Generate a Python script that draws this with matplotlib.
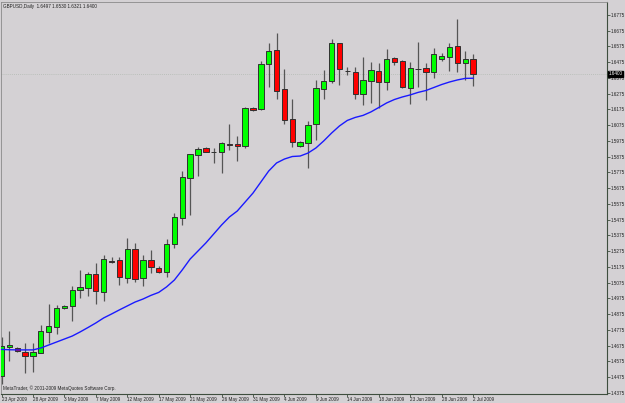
import matplotlib
matplotlib.use('Agg')
import matplotlib.pyplot as plt
import matplotlib.transforms as mtransforms
import numpy as np

symbol_title = "GBPUSD,Daily  1.6497 1.6530 1.6321 1.6400"
copyright_text = "MetaTrader, \u00a9 2001-2009 MetaQuotes Software Corp."

dates = ["23 Apr 2009", "24 Apr 2009", "26 Apr 2009", "27 Apr 2009", "28 Apr 2009", "29 Apr 2009", "30 Apr 2009",
         "1 May 2009", "3 May 2009", "4 May 2009", "5 May 2009", "6 May 2009", "7 May 2009", "8 May 2009",
         "10 May 2009", "11 May 2009", "12 May 2009", "13 May 2009", "14 May 2009", "15 May 2009",
         "17 May 2009", "18 May 2009", "19 May 2009", "20 May 2009", "21 May 2009", "22 May 2009",
         "24 May 2009", "25 May 2009", "26 May 2009", "27 May 2009", "28 May 2009", "29 May 2009",
         "31 May 2009", "1 Jun 2009", "2 Jun 2009", "3 Jun 2009", "4 Jun 2009", "5 Jun 2009",
         "7 Jun 2009", "8 Jun 2009", "9 Jun 2009", "10 Jun 2009", "11 Jun 2009", "12 Jun 2009",
         "14 Jun 2009", "15 Jun 2009", "16 Jun 2009", "17 Jun 2009", "18 Jun 2009", "19 Jun 2009",
         "21 Jun 2009", "22 Jun 2009", "23 Jun 2009", "24 Jun 2009", "25 Jun 2009", "26 Jun 2009",
         "28 Jun 2009", "29 Jun 2009", "30 Jun 2009", "1 Jul 2009", "2 Jul 2009"]

opens = [1.4483, 1.4665, 1.4660, 1.4635, 1.4611, 1.4630, 1.4764, 1.4796, 1.4914, 1.4929,
         1.5030, 1.5039, 1.5132, 1.5018, 1.5215, 1.5219, 1.5103, 1.5287, 1.5107, 1.5219,
         1.5168, 1.5141, 1.5321, 1.5484, 1.5738, 1.5888, 1.5930, 1.5906, 1.5905, 1.5956,
         1.5954, 1.5945, 1.6182, 1.6176, 1.6462, 1.6552, 1.6303, 1.6112, 1.5943, 1.5960,
         1.6083, 1.6305, 1.6358, 1.6595, 1.6421, 1.6415, 1.6273, 1.6358, 1.6419, 1.6347,
         1.6500, 1.6481, 1.6309, 1.6433, 1.6436, 1.6411, 1.6497, 1.6510, 1.6578, 1.6472,
         1.6497]
highs = [1.4730, 1.4770, 1.4669, 1.4690, 1.4690, 1.4806, 1.4940, 1.4933, 1.4935, 1.5056,
         1.5155, 1.5145, 1.5198, 1.5251, 1.5236, 1.5240, 1.5357, 1.5325, 1.5251, 1.5282,
         1.5181, 1.5350, 1.5519, 1.5784, 1.5892, 1.5938, 1.5938, 1.5928, 1.5970, 1.6083,
         1.6006, 1.6192, 1.6192, 1.6485, 1.6595, 1.6662, 1.6430, 1.6241, 1.5975, 1.6104,
         1.6362, 1.6426, 1.6620, 1.6599, 1.6443, 1.6443, 1.6506, 1.6474, 1.6472, 1.6557,
         1.6506, 1.6489, 1.6478, 1.6605, 1.6468, 1.6563, 1.6532, 1.6599, 1.6749, 1.6546,
         1.6530]
lows = [1.4430, 1.4580, 1.4637, 1.4503, 1.4510, 1.4627, 1.4694, 1.4749, 1.4910, 1.4830,
        1.4976, 1.4990, 1.4940, 1.4961, 1.5198, 1.5060, 1.5071, 1.5081, 1.5054, 1.5135,
        1.5135, 1.5113, 1.5293, 1.5441, 1.5505, 1.5754, 1.5903, 1.5833, 1.5773, 1.5917,
        1.5850, 1.5928, 1.6167, 1.6171, 1.6319, 1.6239, 1.6083, 1.5938, 1.5935, 1.5801,
        1.5981, 1.6239, 1.6341, 1.6330, 1.6394, 1.6239, 1.6205, 1.6218, 1.6182, 1.6298,
        1.6457, 1.6309, 1.6210, 1.6319, 1.6235, 1.6373, 1.6485, 1.6421, 1.6415, 1.6362,
        1.6321]
closes = [1.4673, 1.4679, 1.4643, 1.4611, 1.4635, 1.4768, 1.4800, 1.4916, 1.4927, 1.5027,
          1.5048, 1.5132, 1.5020, 1.5223, 1.5206, 1.5113, 1.5287, 1.5096, 1.5219, 1.5173,
          1.5145, 1.5321, 1.5490, 1.5744, 1.5890, 1.5922, 1.5907, 1.5903, 1.5960, 1.5947,
          1.5945, 1.6182, 1.6173, 1.6464, 1.6548, 1.6294, 1.6108, 1.5970, 1.5966, 1.6076,
          1.6309, 1.6356, 1.6595, 1.6432, 1.6419, 1.6271, 1.6360, 1.6425, 1.6351, 1.6493,
          1.6478, 1.6316, 1.6436, 1.6430, 1.6411, 1.6525, 1.6514, 1.6570, 1.6472, 1.6497,
          1.6400]
moving_avg = [1.4651, 1.4649, 1.4648, 1.4648, 1.4648, 1.4660, 1.4679, 1.4698, 1.4717, 1.4736,
              1.4762, 1.4790, 1.4819, 1.4851, 1.4876, 1.4902, 1.4927, 1.4952, 1.4971, 1.4994,
              1.5013, 1.5048, 1.5092, 1.5156, 1.5225, 1.5276, 1.5327, 1.5384, 1.5441, 1.5492,
              1.5530, 1.5587, 1.5644, 1.5714, 1.5784, 1.5835, 1.5860, 1.5876, 1.5879, 1.5898,
              1.5930, 1.5975, 1.6025, 1.6070, 1.6105, 1.6124, 1.6137, 1.6159, 1.6187, 1.6216,
              1.6238, 1.6254, 1.6267, 1.6283, 1.6295, 1.6314, 1.6333, 1.6349, 1.6362, 1.6372,
              1.6373]
last_price = 1.6400
price_ticks = [1.4375, 1.4475, 1.4575, 1.4675, 1.4775, 1.4875, 1.4975, 1.5075, 1.5175,
               1.5275, 1.5375, 1.5475, 1.5575, 1.5675, 1.5775, 1.5875, 1.5975, 1.6075,
               1.6175, 1.6275, 1.6375, 1.6475, 1.6575, 1.6675, 1.6775]

bg = '#d4d1d4'
axis_col = '#3e4e3e'
FS = 3.3
font = 'Liberation Sans'

W, H = 625, 403
fig = plt.figure(figsize=(W / 100, H / 100), dpi=100)
fig.patch.set_facecolor(bg)
ax = fig.add_axes([1 / W, 9 / H, 606 / W, 392 / H])
ax.set_facecolor(bg)

n = len(opens)
idx = np.arange(n)
o = np.array(opens); c = np.array(closes); h = np.array(highs); l = np.array(lows)

ax.vlines(idx, l, h, color='#555555', linewidth=0.9, zorder=2)
up = c >= o
body_bottom = np.minimum(o, c)
body_h = np.abs(c - o)
colors = np.where(up, '#00ff00', '#ff0000')
ax.bar(idx, body_h, bottom=body_bottom, width=0.68, color=colors,
       edgecolor='#303030', linewidth=0.7, zorder=3)

ax.plot(idx, moving_avg, color='#1a1aff', linewidth=1.0, zorder=4)

ax.axhline(last_price, color='#b2bab2', linewidth=0.6, linestyle=(0, (1, 1.5)), zorder=1)

ax.set_xlim(-0.064, 77.04)
ax.set_ylim(1.4368, 1.6857)

ax.yaxis.tick_right()
ax.set_yticks(price_ticks)
ax.set_yticklabels([f"{v:.4f}" for v in price_ticks], fontsize=FS, family=font, color='#202020')
ax.tick_params(axis='y', direction='out', length=2.0, width=0.6, pad=0.8, colors=axis_col, labelcolor='#202020')

tick_idx = list(range(0, n, 4))
ax.set_xticks(tick_idx)
ax.set_xticklabels([dates[i] for i in tick_idx], fontsize=FS, family=font, ha='left', color='#202020')
ax.tick_params(axis='x', direction='out', length=2.0, width=0.6, pad=0.5, colors=axis_col, labelcolor='#202020')

for s in ['left', 'top']:
    ax.spines[s].set_color('#8a8a8a')
    ax.spines[s].set_linewidth(0.6)
for s in ['right', 'bottom']:
    ax.spines[s].set_color(axis_col)
    ax.spines[s].set_linewidth(0.8)

trans = mtransforms.blended_transform_factory(ax.transAxes, ax.transData)
ax.text(1.003, last_price, f"{last_price:.4f}", transform=trans, ha='left', va='center',
        fontsize=FS, family=font, color='white', zorder=10,
        bbox=dict(facecolor='black', edgecolor='black', pad=0.4))

ax.text(0.004, 0.994, symbol_title, transform=ax.transAxes, ha='left', va='top',
        fontsize=FS, family=font, color='#202020')
ax.text(0.004, 0.008, copyright_text, transform=ax.transAxes, ha='left', va='bottom',
        fontsize=FS, family=font, color='#202020')

fig.savefig('out.png', dpi=100, facecolor=bg)
